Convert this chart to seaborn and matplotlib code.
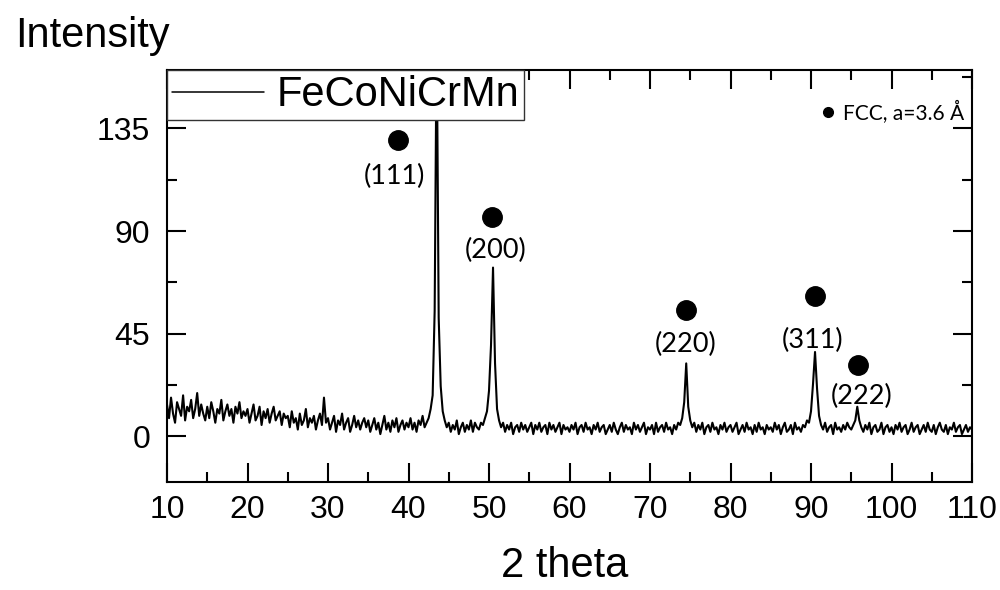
import numpy as np
import matplotlib
matplotlib.use("Agg")
import matplotlib.pyplot as plt
import seaborn as sns
from matplotlib.lines import Line2D

# ---- data (XRD scan, 0.25 deg steps from 10 to 110 deg) ----
intensity = [
    14, 8, 17, 10, 6, 15, 12, 9, 18, 7, 13, 11, 16, 8, 12, 19, 9, 14, 10, 7,
    13, 8, 15, 11, 6, 12, 10, 16, 7, 11, 14, 9, 12, 6, 13, 10, 15, 8, 11, 9,
    12, 6, 10, 14, 7, 9, 13, 5, 11, 8, 12, 6, 10, 13, 7, 9, 11, 5, 10, 8,
    9, 4, 11, 6, 8, 3, 10, 5, 7, 12, 4, 8, 6, 9, 3, 7, 10, 5, 17, 6,
    8, 3, 6, 9, 2, 7, 5, 10, 3, 6, 8, 2, 5, 9, 4, 7, 3, 6, 8, 4,
    7, 2, 5, 8, 3, 6, 1, 5, 9, 3, 6, 2, 7, 4, 8, 2, 5, 7, 3, 6,
    4, 8, 3, 6, 2, 7, 5, 9, 4, 6, 8, 12, 18, 55, 180, 52, 22, 11, 7, 4,
    6, 2, 5, 3, 7, 1, 4, 6, 2, 5, 3, 7, 2, 6, 4, 3, 6, 5, 8, 11,
    20, 40, 74, 32, 12, 7, 4, 6, 2, 5, 3, 6, 1, 4, 5, 2, 6, 3, 5, 2,
    4, 6, 1, 5, 3, 6, 2, 4, 5, 1, 6, 3, 5, 2, 4, 6, 1, 5, 3, 4,
    2, 5, 3, 6, 1, 4, 5, 2, 6, 3, 4, 1, 5, 3, 6, 2, 4, 5, 1, 3,
    5, 2, 6, 3, 1, 4, 6, 2, 5, 3, 4, 1, 6, 3, 5, 2, 4, 6, 1, 4,
    3, 5, 1, 6, 2, 4, 5, 2, 6, 3, 4, 1, 5, 3, 6, 5, 8, 15, 32, 13,
    7, 4, 6, 2, 5, 3, 6, 1, 4, 5, 2, 6, 3, 4, 1, 5, 3, 6, 2, 4,
    5, 2, 4, 6, 1, 3, 5, 2, 6, 3, 4, 1, 5, 2, 6, 3, 4, 1, 5, 3,
    4, 2, 6, 3, 5, 1, 4, 6, 2, 3, 5, 1, 6, 3, 4, 2, 5, 4, 7, 6,
    11, 23, 37, 21, 9, 5, 3, 6, 2, 4, 5, 1, 6, 3, 4, 2, 5, 3, 6, 4,
    3, 5, 7, 13, 7, 4, 2, 5, 3, 6, 1, 4, 5, 2, 3, 6, 1, 4, 5, 2,
    4, 1, 5, 3, 6, 2, 4, 5, 1, 3, 6, 2, 4, 5, 1, 3, 5, 2, 6, 3,
    2, 5, 1, 4, 6, 3, 2, 5, 1, 4, 3, 6, 2, 4, 5, 1, 3, 5, 2, 4,
    3,
]
two_theta = np.linspace(10, 110, len(intensity))

peak_labels = ["(111)", "(200)", "(220)", "(311)", "(222)"]
marker_x = [38.7, 50.4, 74.5, 90.5, 95.8]
marker_y = [130, 96, 55.5, 61.5, 31.5]
label_x = [38.3, 50.8, 74.4, 90.2, 96.3]
label_y = [114, 81.5, 40.5, 42, 17.5]

sample_name = "FeCoNiCrMn"
phase_name = "FCC, a=3.6 Å"
x_ticks = [10, 20, 30, 40, 50, 60, 70, 80, 90, 100, 110]
y_ticks = [0, 45, 90, 135]

# ---- plot ----
sns.set_style("ticks")
plt.rcParams["font.family"] = ["Liberation Sans", "DejaVu Sans"]
plt.rcParams["text.color"] = "black"
plt.rcParams["xtick.color"] = "black"
plt.rcParams["ytick.color"] = "black"
plt.rcParams["xtick.labelcolor"] = "black"
plt.rcParams["ytick.labelcolor"] = "black"

fig = plt.figure(figsize=(10, 5.9), dpi=100)
ax = fig.add_axes([0.167, 0.183, 0.805, 0.698])

sns.lineplot(x=two_theta, y=intensity, ax=ax, color="black", linewidth=1.5,
             estimator=None, sort=False, label=sample_name)

ax.plot(marker_x, marker_y, "o", color="black", markersize=14, linestyle="none")
for lx, ly, t in zip(label_x, label_y, peak_labels):
    ax.text(lx, ly, t, ha="center", va="center", fontsize=19.5,
            family=["Lato", "DejaVu Sans"], color="black")

ax.set_xlim(10, 110)
ax.set_ylim(-20, 160.5)
ax.set_xticks(x_ticks)
ax.set_yticks(y_ticks)
ax.set_xticks(np.arange(15, 110, 10), minor=True)
ax.set_yticks([22.5, 67.5, 112.5, 157.5], minor=True)
ax.tick_params(which="both", direction="in", top=True, right=True, width=1.5,
               labelsize=23, color="black", labelcolor="black")
ax.tick_params(which="major", length=14)
ax.tick_params(which="minor", length=7.5)
ax.tick_params(axis="y", pad=12)
ax.tick_params(axis="x", pad=9)
for s in ax.spines.values():
    s.set_linewidth(1.5)
    s.set_color("black")
ax.set_xlabel("")
ax.set_ylabel("")

leg = ax.legend(loc="upper left", bbox_to_anchor=(0, 1), borderaxespad=0,
                fontsize=30, handlelength=2.2, handletextpad=0.3,
                borderpad=0.12, fancybox=False, framealpha=1, edgecolor="#333333")
leg.get_frame().set_linewidth(1.0)
leg.set_zorder(10)
for h in leg.get_lines():
    h.set_linewidth(1.1)
for t in leg.get_texts():
    t.set_color("black")

fcc_handle = Line2D([], [], marker="o", color="black", linestyle="none", markersize=7)
leg2 = ax.legend(handles=[fcc_handle], labels=[phase_name], loc="center right",
                 bbox_to_anchor=(0.99, 0.898), frameon=False,
                 handlelength=0.6, handletextpad=0.4, borderpad=0, borderaxespad=0,
                 prop={"family": ["Lato", "DejaVu Sans"], "size": 15})
for t in leg2.get_texts():
    t.set_color("black")
ax.add_artist(leg)

fig.text(0.015, 0.920, "Intensity", fontsize=30, va="baseline", ha="left")
fig.text(0.565, 0.022, "2 theta", fontsize=30, va="baseline", ha="center")

fig.savefig("out.png", dpi=100)
